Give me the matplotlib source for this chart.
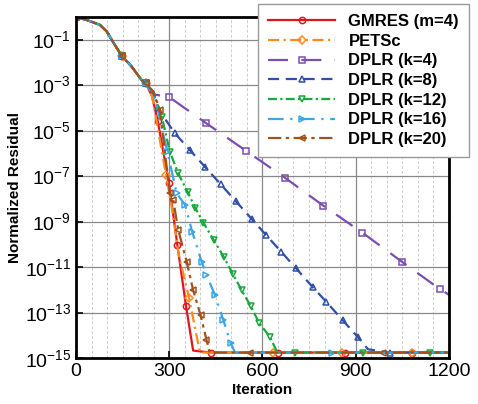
import numpy as np
import matplotlib
matplotlib.use('Agg')
import matplotlib.pyplot as plt
from matplotlib.ticker import FixedLocator, FuncFormatter, MultipleLocator

plt.rcParams['font.family'] = ['Liberation Sans', 'DejaVu Sans']
plt.rcParams['mathtext.fontset'] = 'custom'
plt.rcParams['mathtext.rm'] = 'Liberation Sans'

# common start of every history (iteration, normalized residual)
common_it = [0, 34, 77, 99, 125, 147, 179, 211, 225]
common_res = [1.0, 7.4e-1, 4.5e-1, 2.3e-1, 5.9e-2, 2.0e-2, 6.6e-3, 1.7e-3, 1.2e-3]

# tails of each solver
gmres_it = [245, 263, 299, 326, 354, 377, 433, 651, 865, 1080, 1200]
gmres_res = [3.2e-4, 2.7e-5, 5.2e-8, 1.0e-10, 2.0e-13, 2.2e-15, 1.8e-15, 1.8e-15, 1.8e-15, 1.8e-15, 1.8e-15]

petsc_it = [245, 290, 310, 330, 364, 385, 399, 634, 855, 1080, 1200]
petsc_res = [3.2e-4, 1.1e-7, 3.2e-9, 4.0e-11, 4.4e-13, 1.6e-14, 1.8e-15, 1.8e-15, 1.8e-15, 1.8e-15, 1.8e-15]

k4_it = [250, 300, 420, 546, 672, 796, 922, 1048, 1171, 1200]
k4_res = [4.0e-4, 3.0e-4, 2.1e-5, 1.35e-6, 8.7e-8, 5.1e-9, 3.3e-10, 1.8e-11, 1.1e-12, 6.3e-13]

k8_it = [250, 263, 318, 367, 415, 466, 515, 565, 612, 660, 708, 763, 806, 858, 908, 940, 1011, 1200]
k8_res = [5.0e-4, 9.8e-5, 7.8e-6, 1.4e-6, 2.6e-7, 4.4e-8, 7.9e-9, 1.35e-9, 2.6e-10, 4.9e-11, 9.1e-12,
          1.3e-12, 3.0e-13, 4.8e-14, 8.3e-15, 2.5e-15, 1.8e-15, 1.8e-15]

k12_it = [249, 276, 302, 329, 359, 384, 410, 443, 476, 505, 533, 562, 590, 624, 648, 704, 924, 1139, 1200]
k12_res = [4.5e-4, 4.2e-5, 1.2e-6, 1.35e-7, 2.1e-8, 4.0e-9, 9.1e-10, 1.6e-10, 2.8e-11, 5.0e-12, 1.0e-12,
           2.0e-13, 3.5e-14, 8.9e-15, 1.8e-15, 1.8e-15, 1.8e-15, 1.8e-15, 1.8e-15]

k16_it = [255, 294, 324, 351, 374, 404, 420, 447, 474, 498, 512, 823, 1200]
k16_res = [2.5e-4, 1.2e-6, 1.8e-8, 5.5e-9, 3.7e-10, 1.8e-11, 4.6e-12, 6.2e-13, 4.9e-14, 4.6e-15, 1.8e-15, 1.8e-15, 1.8e-15]

k20_it = [250, 270, 302, 313, 329, 356, 377, 401, 420, 430, 560, 989, 1200]
k20_res = [5.0e-4, 7.9e-5, 1.8e-8, 9.1e-9, 4.4e-10, 1.8e-11, 1.0e-12, 7.9e-14, 6.5e-15, 1.8e-15, 1.8e-15, 1.8e-15, 1.8e-15]

series = [
    # label, it, res, color, dashes, marker, marker indices in tail
    ('GMRES (m=4)', gmres_it, gmres_res, '#e0161e', None, 'o', [1, 2, 3, 4, 6, 7, 8, 9]),
    ('PETSc', petsc_it, petsc_res, '#ff8a1c', (5, 2, 1, 2), 'D', [1, 4, 7, 8, 9]),
    ('DPLR (k=4)', k4_it, k4_res, '#7a4fb0', (9, 6), 's', [1, 2, 3, 4, 5, 6, 7, 8]),
    ('DPLR (k=8)', k8_it, k8_res, '#2f4fa8', (5, 3), '^', [1, 2, 3, 4, 5, 6, 7, 8, 9, 10, 11, 12, 13, 14, 16]),
    ('DPLR (k=12)', k12_it, k12_res, '#18a83c', (4, 1.5, 1, 1.5), 'v', [1, 2, 3, 4, 5, 6, 7, 8, 9, 10, 11, 12, 13, 15, 16, 17]),
    ('DPLR (k=16)', k16_it, k16_res, '#3aa6e6', (7, 3, 1, 3), '>', [1, 2, 3, 4, 5, 6, 7, 8, 9, 11]),
    ('DPLR (k=20)', k20_it, k20_res, '#a0521e', (6, 2, 1.5, 2), '<', [1, 2, 3, 4, 5, 6, 7, 8, 10, 11]),
]

fig = plt.figure(figsize=(4.78, 4.04), dpi=100)
ax = fig.add_axes([0.159, 0.113, 0.780, 0.845])

n0 = len(common_it)
for label, it, res, color, dashes, marker, idx in series:
    x = common_it + it
    y = common_res + res
    marks = [0, 5, 8] + [n0 + i for i in idx]
    ms = 3.8 if marker == 'D' else 4.5
    line, = ax.plot(x, y, color=color, lw=1.6, marker=marker, ms=ms,
                    mfc='none', mec=color, mew=1.1, markevery=marks,
                    label=label)
    if dashes is not None:
        line.set_dashes(dashes)

ax.set_yscale('log')
ax.set_xlim(0, 1200)
ax.set_ylim(1e-15, 1e0)

yt = [10.0 ** e for e in range(-1, -16, -2)]
ax.yaxis.set_major_locator(FixedLocator(yt))
ax.yaxis.set_minor_locator(FixedLocator([]))
ax.yaxis.set_major_formatter(FuncFormatter(lambda v, p: r'$10^{%d}$' % round(np.log10(v))))
ax.xaxis.set_major_locator(MultipleLocator(300))
ax.xaxis.set_minor_locator(MultipleLocator(50))

ax.grid(True, which='major', color='#888888', lw=0.9)
ax.grid(True, which='minor', axis='x', color='#cccccc', lw=0.7, ls=(0, (3, 2)))
ax.set_axisbelow(True)

ax.tick_params(which='major', direction='in', length=5, width=1.2, labelsize=14)
ax.tick_params(which='minor', length=0)
for s in ax.spines.values():
    s.set_linewidth(2)

ax.set_xlabel('Iteration', fontsize=11, fontweight='bold', labelpad=2)
ax.set_ylabel('Normalized Residual', fontsize=11, fontweight='bold', labelpad=2)

leg = fig.legend(loc='upper right', bbox_to_anchor=(469 / 478, 1 - 4 / 404),
                 prop={'weight': 'bold', 'size': 12}, handlelength=4.0,
                 fancybox=False, framealpha=1, edgecolor='#999999',
                 labelspacing=0.28, borderpad=0.6, handletextpad=0.8,
                 borderaxespad=0)

fig.savefig('out.png', dpi=100)
